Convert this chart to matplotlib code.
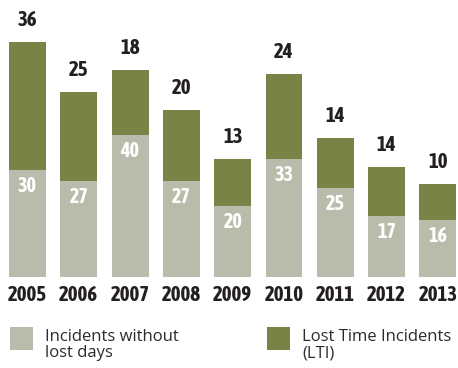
import matplotlib
matplotlib.use("Agg")
import matplotlib.pyplot as plt
from matplotlib.patches import Rectangle
from matplotlib import font_manager as fm

years = ["2005", "2006", "2007", "2008", "2009", "2010", "2011", "2012", "2013"]
no_lost_days = [30, 27, 40, 27, 20, 33, 25, 17, 16]
lti = [36, 25, 18, 20, 13, 24, 14, 14, 10]

gray = "#babbaa"
green = "#778445"
dark = "#231f20"

names = {f.name for f in fm.fontManager.ttflist}
cond = "Asap Condensed" if "Asap Condensed" in names else "DejaVu Sans"
reg = "Open Sans" if "Open Sans" in names else "DejaVu Sans"

fig = plt.figure(figsize=(4.58, 3.68), dpi=100)
W, H = 458, 368
bottom_px = 277
ax = fig.add_axes([0, 1 - bottom_px / H, 1, bottom_px / H])
px_per_unit = 3.561
ax.set_ylim(0, bottom_px / px_per_unit)
pitch = 51.3
x0 = 27.5
ax.set_xlim(-x0 / pitch, (W - x0) / pitch)
ax.axis("off")

x = list(range(len(years)))
ax.bar(x, no_lost_days, width=0.72, color=gray, linewidth=0)
ax.bar(x, lti, bottom=no_lost_days, width=0.72, color=green, linewidth=0)

for i in x:
    tot = no_lost_days[i] + lti[i]
    ax.annotate(str(lti[i]), (i, tot), xytext=(0, 22), textcoords="offset pixels",
                ha="center", va="center", fontsize=15, fontweight="bold",
                family=cond, color=dark)
    ax.annotate(str(no_lost_days[i]), (i, no_lost_days[i]), xytext=(0, -16),
                textcoords="offset pixels", ha="center", va="center",
                fontsize=14.5, fontweight="bold", family=cond, color="white")
    ax.annotate(years[i], (i, 0), xytext=(0, -18), textcoords="offset pixels",
                ha="center", va="center", fontsize=15, fontweight="bold",
                family=cond, color=dark, annotation_clip=False)

# legend
def leg(xpx, color, text):
    fig.patches.append(Rectangle((xpx / W, 1 - 350 / H), 23 / W, 23 / H,
                                 transform=fig.transFigure, color=color, linewidth=0))
    fig.text((xpx + 35) / W, 1 - 329 / H, text, ha="left", va="top",
             fontsize=12, family=reg, color="#2b2b2b", linespacing=1.0)

leg(10, gray, "Incidents without\nlost days")
leg(267, green, "Lost Time Incidents\n(LTI)")

fig.savefig("out.png", dpi=100)
